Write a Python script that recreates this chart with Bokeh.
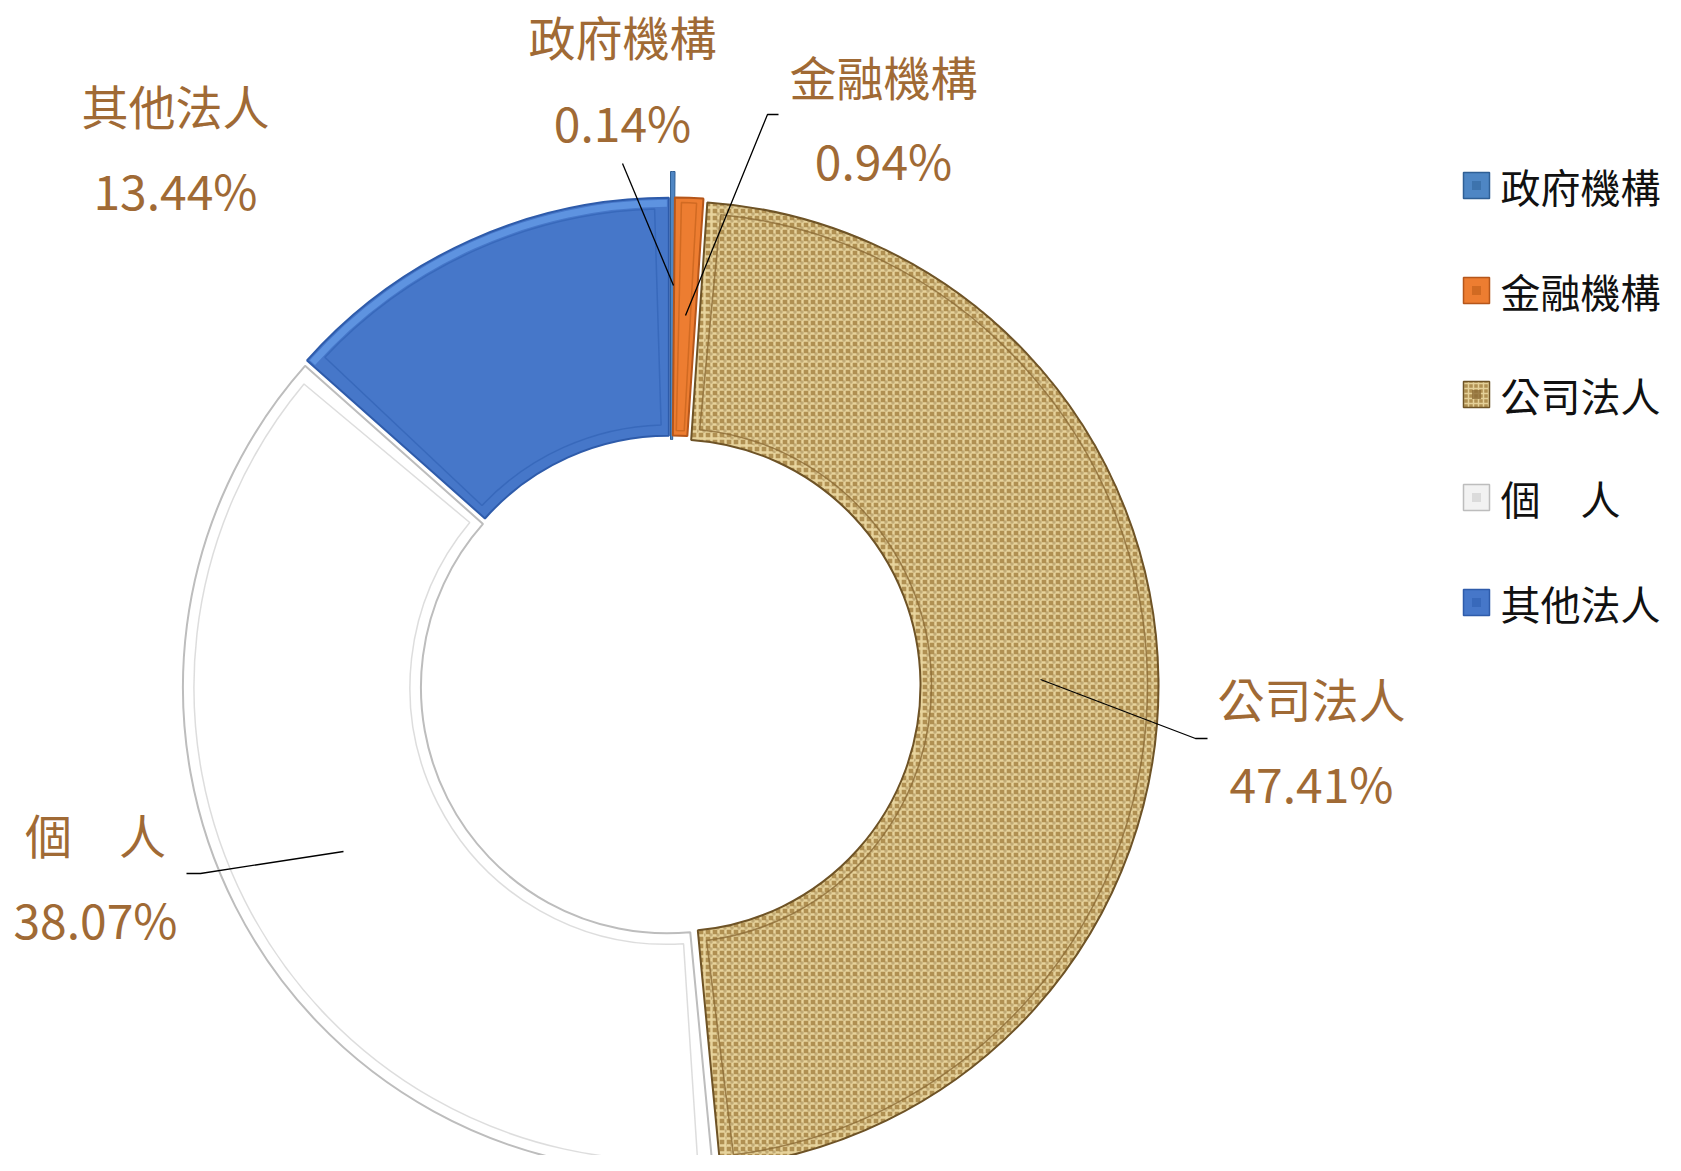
import math
from bokeh.plotting import figure
from bokeh.models import Range1d
from bokeh.core.properties import value
from bokeh.embed import file_html
from bokeh.resources import INLINE

# ---------------- data ----------------
categories = ["政府機構", "金融機構", "公司法人", "個　人", "其他法人"]
shares = [0.14, 0.94, 47.41, 38.07, 13.44]
fill_colors = ["#4E86C4", "#ED7D31", "#B09052", "#FFFFFF", "#4677C9"]
edge_colors = ["#2F5F95", "#B5561A", "#6E5326", "#BDBDBD", "#2E5BAA"]
bevel_colors = ["#3A6EA8", "#C9651F", "#8C6C36", "#D4D4D4", "#3565B8"]
label_color = "#A06A35"

# ---------------- layout ----------------
W, H = 1681, 1171
FONT = "Noto Sans CJK TC"


def Y(y):
    return H - y


CX, CY = 670, Y(685)
R_OUT, R_IN = 484, 246
EXPLODE = 4
GOV_EXTRA = 30

p = figure(width=1665, height=1155,
           x_range=Range1d(0, 1665), y_range=Range1d(16, H),
           output_backend="svg", toolbar_location=None,
           x_axis_type=None, y_axis_type=None, min_border=0)
p.outline_line_color = None
p.background_fill_color = "white"
p.border_fill_color = "white"

total = sum(shares)
cum = 0.0
for i, (cat, v) in enumerate(zip(categories, shares)):
    f0 = cum / total
    f1 = (cum + v) / total
    cum += v
    a0 = math.radians(90 - 360 * f0)
    a1 = math.radians(90 - 360 * f1)
    mid = (a0 + a1) / 2
    ex = 0 if i == 0 else EXPLODE
    cx = CX + ex * math.cos(mid)
    cy = CY + ex * math.sin(mid)
    r_out = R_OUT + (GOV_EXTRA if i == 0 else 0)
    kw = {}
    if i == 2:
        kw = dict(hatch_pattern="+", hatch_color="#EAD7A0", hatch_scale=7,
                  hatch_weight=2.4, hatch_alpha=0.95)
    p.annular_wedge(x=[cx], y=[cy], inner_radius=R_IN, outer_radius=r_out,
                    start_angle=a0, end_angle=a1, direction="clock",
                    fill_color=fill_colors[i], line_color=edge_colors[i],
                    line_width=2 if i != 0 else 1, **kw)
    if i == 2:
        # second, offset weave layer
        p.annular_wedge(x=[cx + 3], y=[cy + 3], inner_radius=R_IN + 3, outer_radius=R_OUT - 3,
                        start_angle=a0 - 0.01, end_angle=a1 + 0.01, direction="clock",
                        fill_color=None, line_color=None,
                        hatch_pattern="dot", hatch_color="#7A5E2C", hatch_scale=7,
                        hatch_weight=1.2, hatch_alpha=0.35)
    # bevel inset
    if i in (1, 2, 3, 4):
        b = 5 if i == 1 else 11
        rm = (R_IN + R_OUT) / 2
        da = b / rm
        p.annular_wedge(x=[cx], y=[cy], inner_radius=R_IN + b, outer_radius=R_OUT - b,
                        start_angle=a0 - da, end_angle=a1 + da, direction="clock",
                        fill_color=None, line_color=bevel_colors[i], line_width=1.5,
                        line_alpha=0.8)
    if i == 4:
        # lighter rim band
        p.annular_wedge(x=[cx], y=[cy], inner_radius=R_OUT - 9, outer_radius=R_OUT - 2,
                        start_angle=a0 - 2 / R_OUT, end_angle=a1 + 2 / R_OUT,
                        direction="clock", fill_color="#5E93E0", line_color=None)

# ---------------- leader lines ----------------
leaders = [
    [(622, 163), (673, 285)],
    [(778, 114), (767, 114), (685, 315)],
    [(1040, 679), (1195, 738), (1207, 738)],
    [(343, 851), (200, 873), (186, 873)],
]
for pts in leaders:
    p.line([q[0] for q in pts], [Y(q[1]) for q in pts], line_color="black", line_width=1.3)

# ---------------- data labels ----------------
label_pos = [(622, 35, 120), (883, 75, 158), (1311, 697, 781), (95, 833, 917), (175, 104, 188)]
pct_texts = [f"{v:.2f}%" for v in shares]
for (lx, ly1, ly2), cat, pt in zip(label_pos, categories, pct_texts):
    p.text(x=[lx], y=[Y(ly1)], text=[cat], text_font=value(FONT), text_font_size="47px",
           text_color=label_color, text_align="center", text_baseline="middle")
    p.text(x=[lx], y=[Y(ly2)], text=[pt], text_font=value(FONT), text_font_size="48px",
           text_color=label_color, text_align="center", text_baseline="middle")

# ---------------- legend ----------------
LEG_X, LEG_TX = 1476, 1500
leg_y = [185, 290, 394, 497, 602]
for i, (cat, ly) in enumerate(zip(categories, leg_y)):
    kw = {}
    if i == 2:
        kw = dict(hatch_pattern="+", hatch_color="#EAD7A0", hatch_scale=5,
                  hatch_weight=1.5, hatch_alpha=0.9)
    p.scatter(x=[LEG_X], y=[Y(ly)], marker="square", size=26,
              fill_color=fill_colors[i] if i != 3 else "#F2F2F2",
              line_color=edge_colors[i], line_width=1.5, **kw)
    p.scatter(x=[LEG_X], y=[Y(ly)], marker="square", size=9,
              fill_color=bevel_colors[i], line_color=None, fill_alpha=0.8)
    p.text(x=[LEG_TX], y=[Y(ly)], text=[cat], text_font=value(FONT), text_font_size="40px",
           text_color="#111111", text_align="left", text_baseline="middle")

open("out.html", "w").write(file_html(p, INLINE))
